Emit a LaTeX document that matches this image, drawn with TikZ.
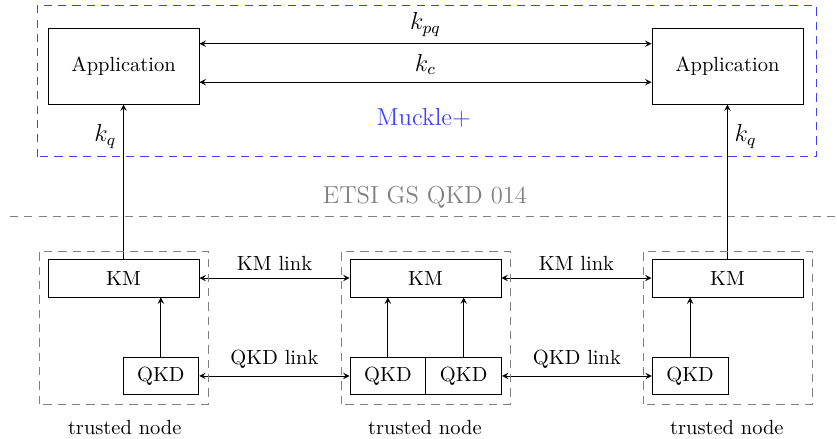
\documentclass[tikz,border=0pt]{standalone}
\usepackage{amsmath}
\usetikzlibrary{positioning}

\begin{document}
\begin{tikzpicture}[>=stealth,
  box/.style={draw, minimum width=2.59cm, minimum height=0.65cm},
  appbox/.style={draw, minimum width=2.59cm, minimum height=1.29cm},
  qkdbox/.style={draw, minimum width=1.30cm, minimum height=0.65cm},
  longdash/.style={dash pattern=on 4pt off 3pt},
  trust/.style={gray, longdash},
  big/.style={font=\large}]
\useasboundingbox (0,0) rectangle (14.36,7.53);
\def\y{2.76}
\def\z{1.08}

% upper layer
\node[appbox] (app1) at (2.12, 6.39) {Application};
\node[appbox] (app2) at (12.48, 6.39) {Application};

\draw[<->] ([yshift=0.39cm]app1.east) -- node[above, big] {$k_{pq}$} ([yshift=0.39cm]app2.west);
\draw[<->] ([yshift=-0.27cm]app1.east) -- node[above, big] {$k_c$} ([yshift=-0.27cm]app2.west);

\node[big, text=blue!75] (muckle) at (7.27, 5.51) {Muckle+};
\draw[blue!75, longdash] (0.635, 4.84) rectangle (14.01, 7.43);

\draw[gray, longdash] (0.17, 3.81) -- (14.36, 3.81);
\node[big, text=gray] (etsi) at (7.29, 4.15) {ETSI GS QKD 014};

% trusted nodes
\node[box] (km1) at (2.12, \y) {KM};
\node[box] (km2) at (7.30, \y) {KM};
\node[box] (km3) at (12.48, \y) {KM};

\node[qkdbox] (qkd1) at (2.76, \z) {QKD};
\node[qkdbox] (qkd2) at (6.655, \z) {QKD};
\node[qkdbox] (qkd3) at (7.955, \z) {QKD};
\node[qkdbox] (qkd4) at (11.84, \z) {QKD};

\draw[->] (km1) -- node[pos=0.79, left, big] {$k_q$} (app1);
\draw[->] (km3) -- node[pos=0.79, right, big] {$k_q$} (app2);

\draw[->] (qkd1) -- (qkd1 |- km1.south);
\draw[->] (qkd2) -- (qkd2 |- km2.south);
\draw[->] (qkd3) -- (qkd3 |- km2.south);
\draw[->] (qkd4) -- (qkd4 |- km3.south);

\draw[<->] (km1) -- node[above] {KM link} (km2);
\draw[<->] (km2) -- node[above] {KM link} (km3);
\draw[<->] (qkd1) -- node[above] {QKD link} (qkd2);
\draw[<->] (qkd3) -- node[above] {QKD link} (qkd4);

\draw[trust] (0.67, 0.60) rectangle (3.57, 3.22);
\draw[trust] (5.85, 0.60) rectangle (8.75, 3.22);
\draw[trust] (11.03, 0.60) rectangle (13.93, 3.22);

\node (t1) at (2.14, 0.19) {trusted node};
\node (t2) at (7.29, 0.19) {trusted node};
\node (t3) at (12.47, 0.19) {trusted node};
\end{tikzpicture}
\end{document}
